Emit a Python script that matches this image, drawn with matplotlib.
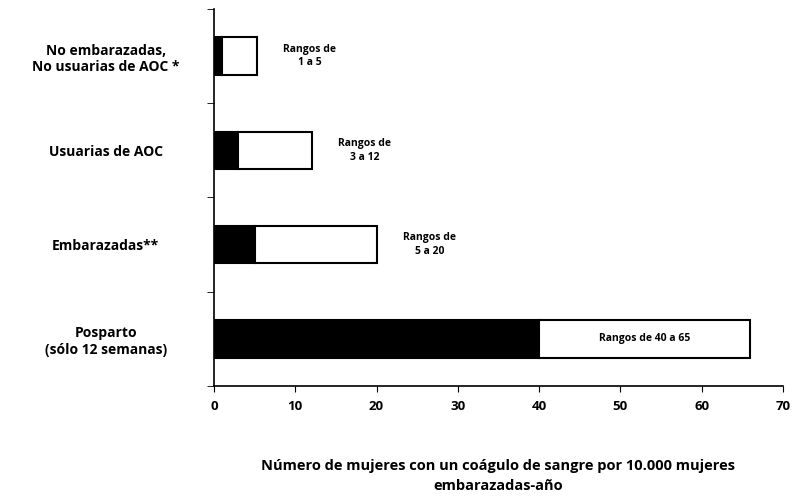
import matplotlib
matplotlib.use('Agg')
import matplotlib.pyplot as plt
import numpy as np

plt.rcParams['font.family'] = ['Open Sans', 'DejaVu Sans']
plt.rcParams['font.weight'] = 'bold'

# datos
categorias = ['No embarazadas,\nNo usuarias de AOC *', 'Usuarias de AOC',
              'Embarazadas**', 'Posparto\n(sólo 12 semanas)']
minimo = [1, 3, 5, 40]
maximo = [5.3, 12, 20, 66]
rangos = ['Rangos de\n1 a 5', 'Rangos de\n3 a 12', 'Rangos de\n5 a 20', 'Rangos de 40 a 65']
xticks = [0, 10, 20, 30, 40, 50, 60, 70]

fig = plt.figure(figsize=(7.94, 4.99), dpi=100)
ax = fig.add_axes([0.2695, 0.2265, 0.7165, 0.7555])

y = np.arange(len(categorias))
resto = np.array(maximo) - np.array(minimo)
ax.barh(y, minimo, height=0.4, color='black', edgecolor='black', linewidth=1.5)
ax.barh(y, resto, left=minimo, height=0.4, color='white', edgecolor='black', linewidth=1.5)

# etiquetas de rango
for i, txt in enumerate(rangos):
    if i == 3:
        ax.text((minimo[i] + maximo[i]) / 2, y[i], txt, ha='center', va='center',
                fontsize=7.5, fontweight='bold')
    else:
        ax.text(maximo[i] + 6.5, y[i], txt, ha='center', va='center',
                fontsize=7.5, fontweight='bold', linespacing=1.3)

ax.set_ylim(3.5, -0.5)
ax.set_xlim(0, 70)
ax.set_yticks(y)
ax.set_yticklabels(categorias, fontsize=10, fontweight='bold', ha='center')
ax.tick_params(axis='y', length=0, pad=78)
ax.set_yticks([-0.5, 0.5, 1.5, 2.5, 3.5], minor=True)
ax.tick_params(axis='y', which='minor', length=5, direction='out')
ax.set_xticks(xticks)
ax.set_xticklabels([str(t) for t in xticks], fontsize=9.5, fontweight='bold')
ax.tick_params(axis='x', length=4, direction='out', pad=6)

for s in ['top', 'right']:
    ax.spines[s].set_visible(False)
ax.spines['left'].set_linewidth(1.2)
ax.spines['bottom'].set_linewidth(1.2)

ax.set_xlabel('Número de mujeres con un coágulo de sangre por 10.000 mujeres\nembarazadas-año',
              fontsize=10.5, fontweight='bold', labelpad=33, linespacing=1.6)

fig.savefig('out.png', dpi=100)
